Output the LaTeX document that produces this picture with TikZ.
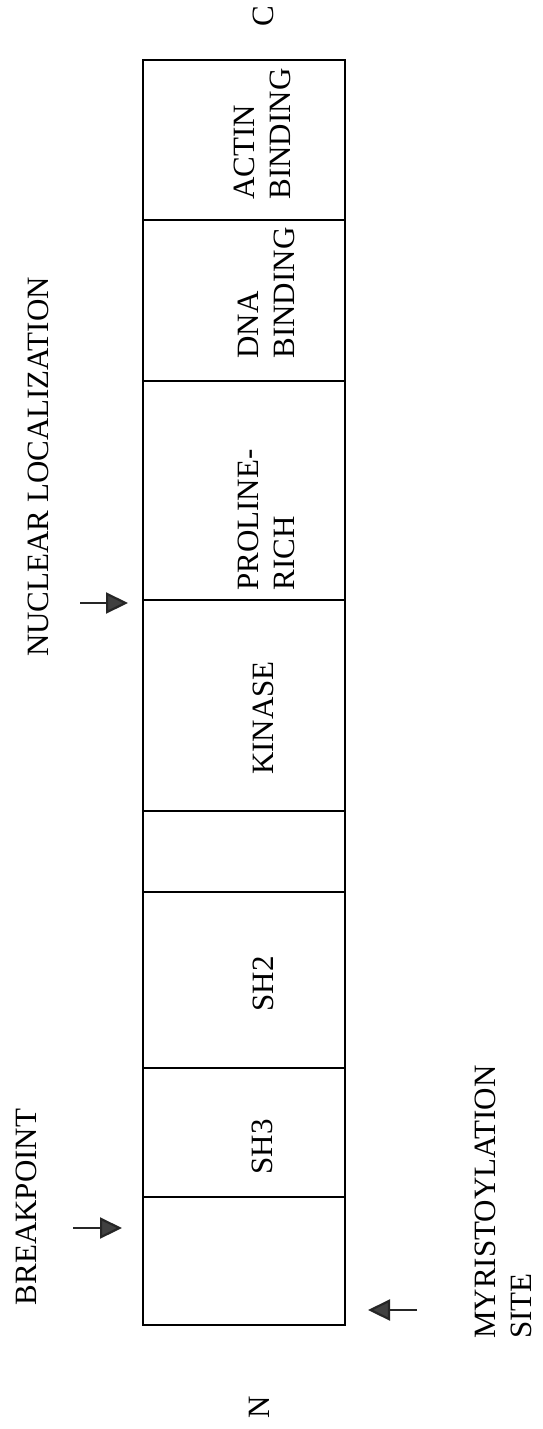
\documentclass[tikz,border=0pt]{standalone}
\newcommand{\BoxLeft}{143}
\newcommand{\BoxRight}{345}
\newcommand{\BoxTop}{60}
\newcommand{\BoxBottom}{1325}
\newcommand{\LabelX}{263}
\usepackage{fontspec}
\setmainfont{Liberation Serif}
\usepackage{xcolor}
\usepackage{tikz}
\usetikzlibrary{arrows.meta}

\begin{document}
\begin{tikzpicture}[x=1pt,y=-1pt,
  segtext/.style={font=\fontsize{31}{36}\selectfont,rotate=90,inner sep=0pt,align=left},
  pointer/.style={line width=2.2pt,draw=black!85,-{Triangle[length=22pt,width=21pt,fill=black!75]}}]
\useasboundingbox (0,0) rectangle (543,1429);
% protein bar, C end at the top
\draw[line width=2.4pt] (\BoxLeft,\BoxTop) rectangle (\BoxRight,\BoxBottom);
\draw[line width=2pt] (\BoxLeft,220)--(\BoxRight,220) (\BoxLeft,381)--(\BoxRight,381)
 (\BoxLeft,600)--(\BoxRight,600) (\BoxLeft,811)--(\BoxRight,811)
 (\BoxLeft,892)--(\BoxRight,892) (\BoxLeft,1068)--(\BoxRight,1068)
 (\BoxLeft,1197)--(\BoxRight,1197);
\node[segtext] (actin) at (262,134) {ACTIN\\BINDING};
\node[segtext] (dnabind) at (266,293) {DNA\\BINDING};
\node[segtext] (proline) at (266,520) {PROLINE-\\RICH};
\node[segtext] (kinase) at (\LabelX,718) {KINASE};
\node[segtext] (shtwo) at (\LabelX,984) {SH2};
\node[segtext] (shthree) at (262,1147) {SH3};
\node[segtext] (cterm) at (\LabelX,16) {C};
\node[segtext] (nterm) at (259,1407) {N};
% sites along the bar
\node[segtext] (nucloc) at (38,467) {NUCLEAR LOCALIZATION};
\node[segtext] (breakpt) at (26,1207) {BREAKPOINT};
\node[segtext] (myrsite) at (503,1202) {MYRISTOYLATION\\SITE};
\coordinate (nucloc tail) at (80,603);
\coordinate (nucloc tip) at (128,603);
\coordinate (breakpt tail) at (73,1228);
\coordinate (breakpt tip) at (122,1228);
\coordinate (myrsite tail) at (417,1310);
\coordinate (myrsite tip) at (368,1310);
\draw[pointer] (nucloc tail)--(nucloc tip);
\draw[pointer] (breakpt tail)--(breakpt tip);
\draw[pointer] (myrsite tail)--(myrsite tip);
\end{tikzpicture}
\end{document}
